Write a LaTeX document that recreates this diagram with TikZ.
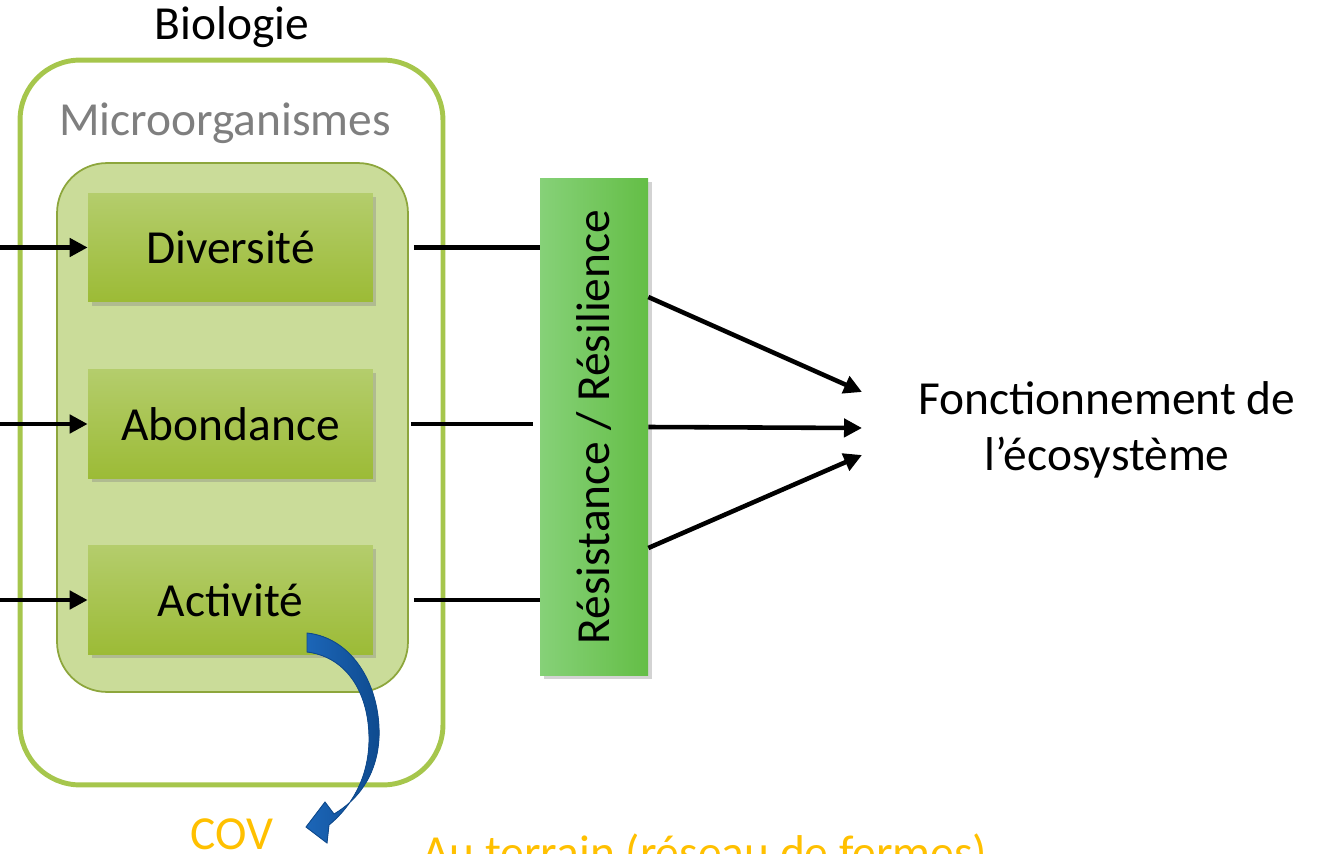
\documentclass[tikz,border=0pt]{standalone}
\usepackage{fontspec}
\setmainfont{Carlito}
\usetikzlibrary{arrows.meta,shadows,calc,positioning}
\definecolor{BioFrame}{HTML}{A6C64C}
\definecolor{BioInner}{HTML}{CADC99}
\definecolor{BioInnerLine}{HTML}{8DA63C}
\definecolor{BioBoxTop}{HTML}{B4CD6C}
\definecolor{BioBoxBottom}{HTML}{9CBB36}
\definecolor{BioBarLeft}{HTML}{86D178}
\definecolor{BioBarRight}{HTML}{64BE46}
\definecolor{BioMuted}{HTML}{7F7F7F}
\definecolor{BioOrange}{HTML}{FFC000}
\definecolor{BioBlue}{HTML}{1C66B8}
\definecolor{BioBlueDark}{HTML}{0E4A8E}

\tikzset{
  bioframe/.style={draw=BioFrame,line width=2.8pt,rounded corners=1.2cm,fill=white,
    minimum width=8.46cm,minimum height=14.5cm},
  bioinner/.style={draw=BioInnerLine,line width=1pt,rounded corners=1cm,fill=BioInner,
    minimum width=7.02cm,minimum height=10.58cm},
  biobox/.style={top color=BioBoxTop,bottom color=BioBoxBottom,
    minimum width=5.7cm,minimum height=2.18cm,
    drop shadow={opacity=0.35,shadow xshift=2pt,shadow yshift=-2pt}},
  biobar/.style={left color=BioBarLeft,right color=BioBarRight,
    minimum width=2.16cm,minimum height=9.96cm,
    drop shadow={opacity=0.35,shadow xshift=2pt,shadow yshift=-2pt}},
  flow/.style={line width=2.6pt,-{Triangle[length=0.36cm,width=0.36cm]}},
  link/.style={line width=2.6pt}
}

\begin{document}
\begin{tikzpicture}[x=0.02cm,y=-0.02cm,font=\fontsize{27}{32}\selectfont]
  \useasboundingbox (0,0) rectangle (1327,854);
  \clip (0,0) rectangle (1327,854);

  \node (bio) at (232,27) {Biologie};
  \node[bioframe] (frame) at (231.5,422.5) {};
  \node[text=BioMuted] (micro) at (225,123) {Microorganismes};
  \node[bioinner] (inner) at (232.5,427.5) {};

  \node[biobox] (div) at (230.5,247.5) {Diversité};
  \node[biobox] (abo) at (230.5,424) {Abondance};
  \node[biobox] (act) at (230.5,600) {Activité};

  \node[biobar] (bar) at (594,427) {\rotatebox{90}{Résistance / Résilience}};
  \node[align=center] (eco) at (1107,430) {Fonctionnement de\\l’écosystème};

  \coordinate (in1) at (0,0 |- div.west);
  \coordinate (in2) at (0,0 |- abo.west);
  \coordinate (in3) at (0,0 |- act.west);
  \draw[flow] (in1) -- (div.west);
  \draw[flow] (in2) -- (abo.west);
  \draw[flow] (in3) -- (act.west);

  \draw[link] ([xshift=0.1cm]inner.east |- div.east) -- (bar.west |- div.east);
  \draw[link] ([xshift=0.04cm]inner.east |- abo.east) -- ([xshift=-0.14cm]bar.west |- abo.east);
  \draw[link] ([xshift=0.1cm]inner.east |- act.east) -- (bar.west |- act.east);

  \coordinate (f1) at (862,392);
  \coordinate (f2) at (862,428);
  \coordinate (f3) at (862,455);
  \draw[flow] ([yshift=2.6cm]bar.east) -- (f1);
  \draw[flow] ([yshift=0cm]bar.east) -- (f2);
  \draw[flow] ([yshift=-2.42cm]bar.east) -- (f3);

  \node[text=BioOrange] (cov) at (232,834) {COV};
  \node[text=BioOrange,anchor=base west] (terrain) at (416,868) {Au terrain (réseau de fermes)};

  \fill[left color=BioBlue,right color=BioBlueDark,draw=BioBlueDark,line width=0.5pt]
    (307,633) .. controls (354,638) and (381,688) .. (379,738)
    .. controls (377,775) and (358,800) .. (334,814)
    -- (325,802) -- (306,827) -- (327,843) -- (329,825)
    .. controls (352,806) and (368,778) .. (369,742)
    .. controls (370,695) and (348,657) .. (307,652) -- cycle;
\end{tikzpicture}
\end{document}
